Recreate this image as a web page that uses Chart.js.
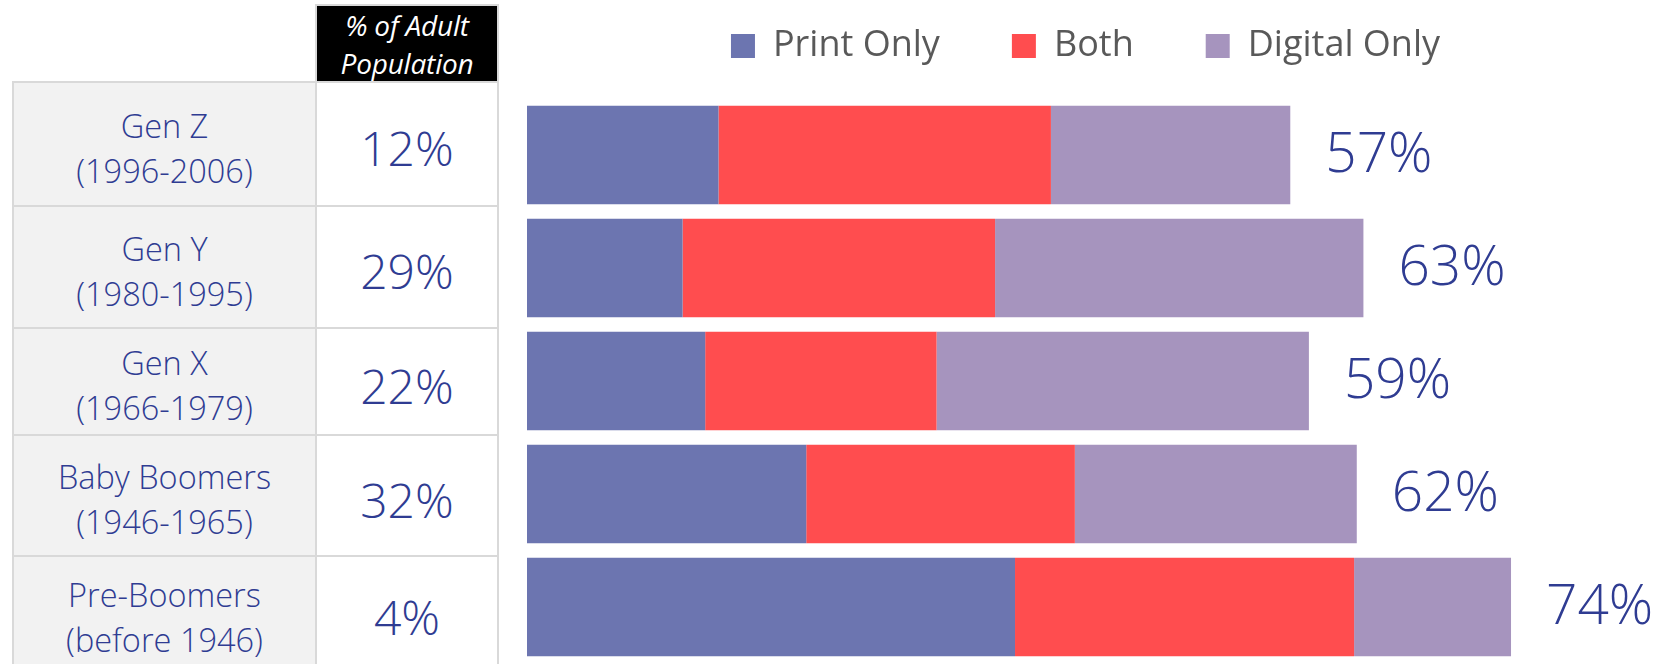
<!DOCTYPE html>
<html>
<head>
<meta charset="utf-8">
<script src="https://cdn.jsdelivr.net/npm/chart.js@4.4.1/dist/chart.umd.min.js"></script>
<style>
  html, body { margin: 0; padding: 0; background: #fff; overflow: hidden; }
  body { width: 1673px; height: 664px; position: relative; font-family: "Open Sans", "DejaVu Sans", sans-serif; }
  #head {
    position: absolute; left: 315px; top: 4px; width: 184px; height: 79px;
    box-sizing: border-box; border: 2px solid #d9d9d9; background: #000;
    color: #fff; font-style: italic; font-size: 28px; line-height: 38px;
    text-align: center; padding-top: 0px; letter-spacing: -0.2px;
  }
  #grid {
    position: absolute; left: 12px; top: 81px; width: 487px; box-sizing: border-box;
    display: grid; grid-template-columns: 301px 180px; gap: 2px; padding: 2px;
    background: #d9d9d9;
  }
  .gen {
    background: #f2f2f2; color: #2f3c92; font-weight: 300; font-size: 32.5px; line-height: 45px;
    display: flex; flex-direction: column; justify-content: center; align-items: center;
    padding-top: 7px; box-sizing: border-box;
  }
  .share {
    background: #fff; color: #2f3c92; font-weight: 300; font-size: 48px;
    display: flex; justify-content: center; align-items: center;
    padding-top: 7px; box-sizing: border-box;
  }
  #chart { position: absolute; left: 500px; top: -44px; }
</style>
</head>
<body>
<div id="head">% of Adult<br>Population</div>
<div id="grid"></div>
<canvas id="chart" width="1173" height="708"></canvas>
<script>
// Generations, their birth years and share of the adult population
const generations = ['Gen Z', 'Gen Y', 'Gen X', 'Baby Boomers', 'Pre-Boomers'];
const birthYears = ['(1996-2006)', '(1980-1995)', '(1966-1979)', '(1946-1965)', '(before 1946)'];
const adultShare = [12, 29, 22, 32, 4];

// Readership mix, in percent of each generation
const printOnly = [14.4, 11.7, 13.4, 21.0, 36.7];
const bothFormats = [25.0, 23.5, 17.4, 20.2, 25.5];
const digitalOnly = [18.0, 27.7, 28.0, 21.2, 11.8];

const seriesNames = ['Print Only', 'Both', 'Digital Only'];

// Row heights of the generation table
const rowHeights = [122, 120, 105, 119, 112];

const grid = document.getElementById('grid');
grid.style.gridTemplateRows = rowHeights.map(h => h + 'px').join(' ');
generations.forEach((g, i) => {
  const a = document.createElement('div');
  a.className = 'gen';
  a.innerHTML = '<span>' + g + '</span><span>' + birthYears[i] + '</span>';
  const b = document.createElement('div');
  b.className = 'share';
  b.textContent = adultShare[i] + '%';
  grid.appendChild(a);
  grid.appendChild(b);
});

const navy = '#2f3c92';

// Total readership written to the right of each stacked bar
const totalLabels = {
  id: 'totalLabels',
  afterDatasetsDraw(chart) {
    const ctx = chart.ctx;
    const last = chart.getDatasetMeta(chart.data.datasets.length - 1);
    ctx.save();
    ctx.font = '300 55px "Open Sans", sans-serif';
    ctx.fillStyle = navy;
    ctx.textAlign = 'left';
    ctx.textBaseline = 'middle';
    last.data.forEach((bar, i) => {
      const total = chart.data.datasets.reduce((s, ds) => s + ds.data[i], 0);
      ctx.fillText(Math.round(total) + '%', bar.x + 35, bar.y + 1);
    });
    ctx.restore();
  }
};

new Chart(document.getElementById('chart'), {
  type: 'bar',
  data: {
    labels: generations,
    datasets: [
      { label: seriesNames[0], data: printOnly, backgroundColor: '#6c75b0' },
      { label: seriesNames[1], data: bothFormats, backgroundColor: '#ff4d4f' },
      { label: seriesNames[2], data: digitalOnly, backgroundColor: '#a694be' }
    ]
  },
  options: {
    indexAxis: 'y',
    responsive: false,
    animation: false,
    devicePixelRatio: 1,
    layout: { padding: { left: 27, right: 29, top: 0, bottom: 0.5 } },
    datasets: { bar: { categoryPercentage: 1, barPercentage: 0.87, borderWidth: 0 } },
    scales: {
      x: {
        stacked: true, min: 0, max: 84, position: 'top',
        ticks: { display: false }, grid: { display: false }, border: { display: false },
        afterFit(scale) { scale.height = 24.5; }
      },
      y: { stacked: true, display: false }
    },
    plugins: {
      tooltip: { enabled: false },
      legend: {
        position: 'top',
        labels: {
          boxWidth: 24, boxHeight: 24, padding: 72,
          color: '#595959',
          font: { family: '"Open Sans", sans-serif', size: 36, weight: 400 }
        }
      }
    }
  },
  plugins: [totalLabels]
});
</script>
</body>
</html>
